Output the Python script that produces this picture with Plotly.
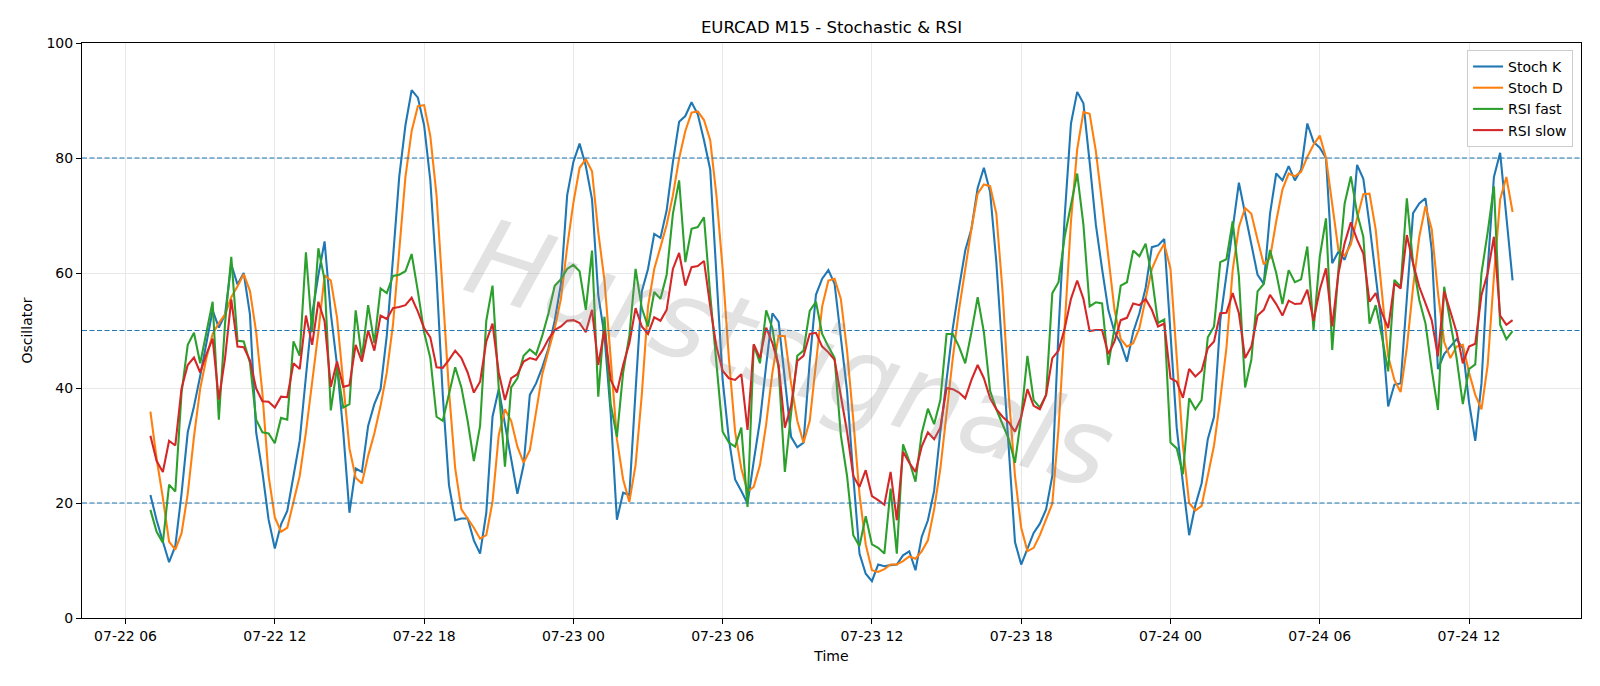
import pandas as pd
import plotly.graph_objects as go

START = "2025-07-22 07:00"
FREQ = "15min"

stoch_k = [
    21.4, 17.0, 13.3, 9.7, 12.5, 21.6, 32.3, 36.8, 42.1, 47.5,
    53.5, 50.5, 52.8, 61.5, 58.0, 60.0, 52.8, 32.3, 25.4, 17.1,
    12.1, 16.3, 18.6, 24.7, 30.8, 42.0, 52.8, 59.6, 65.5, 53.0,
    44.0, 32.4, 18.3, 26.0, 25.4, 33.4, 37.2, 39.8, 49.1, 62.6,
    76.7, 85.7, 91.8, 90.5, 85.7, 76.1, 59.4, 38.8, 23.1, 17.0,
    17.3, 17.3, 13.5, 11.2, 18.3, 35.0, 39.8, 33.7, 27.9, 21.6,
    26.6, 38.8, 40.8, 43.6, 46.9, 51.7, 58.1, 73.5, 79.3, 82.5,
    78.6, 72.8, 56.2, 49.1, 35.6, 17.1, 21.8, 21.4, 39.5, 56.8,
    60.7, 66.8, 66.1, 70.9, 79.3, 86.3, 87.3, 89.7, 87.6, 83.1,
    78.0, 59.4, 41.4, 31.1, 24.1, 22.1, 19.9, 27.3, 34.3, 44.0,
    53.0, 51.5, 41.4, 31.5, 29.7, 30.5, 44.6, 56.2, 59.0, 60.5,
    58.1, 49.1, 39.5, 24.7, 11.2, 7.7, 6.4, 9.3, 9.0, 9.2,
    9.3, 10.9, 11.6, 8.3, 14.1, 17.0, 22.1, 32.4, 41.4, 50.4,
    57.4, 63.9, 67.7, 74.8, 78.3, 74.1, 61.9, 45.9, 28.6, 13.2,
    9.3, 12.2, 14.8, 16.4, 18.9, 24.7, 50.0, 70.0, 86.0, 91.5,
    89.5, 79.3, 68.4, 60.7, 53.6, 49.7, 47.8, 44.6, 49.7, 53.0,
    57.4, 64.5, 64.8, 65.9, 49.1, 33.1, 23.4, 14.4, 19.6, 23.4,
    31.1, 35.0, 51.7, 59.4, 68.0, 75.7, 70.3, 65.2, 59.7, 58.1,
    70.3, 77.3, 76.1, 78.6, 76.1, 78.0, 86.0, 82.8, 81.8, 80.0,
    61.7, 63.7, 62.3, 65.7, 78.8, 76.4, 68.4, 59.4, 50.4, 36.8,
    40.6, 40.8, 56.5, 70.4, 72.1, 73.0, 64.0, 43.3, 45.9, 47.2,
    48.5, 46.9, 37.5, 30.8, 40.8, 60.7, 76.7, 80.9, 70.3, 58.7,
]

stoch_d = [
    35.9, 27.7, 20.9, 13.3, 11.9, 14.7, 21.6, 31.5, 39.9, 45.2,
    49.4, 51.3, 52.8, 55.8, 57.7, 59.8, 56.9, 49.7, 39.1, 24.7,
    17.5, 15.0, 15.7, 20.1, 24.7, 32.3, 40.6, 49.7, 59.6, 58.7,
    52.3, 41.4, 29.5, 24.4, 23.4, 28.2, 32.1, 36.9, 42.7, 51.0,
    64.5, 76.7, 84.7, 89.0, 89.2, 83.8, 73.5, 55.5, 39.5, 26.0,
    18.9, 17.3, 15.7, 13.8, 14.4, 20.2, 31.8, 36.3, 34.3, 29.8,
    27.0, 29.2, 35.6, 42.4, 46.5, 50.4, 55.5, 64.5, 72.2, 78.3,
    79.8, 77.7, 67.1, 58.7, 45.2, 31.1, 24.1, 20.2, 26.6, 38.8,
    54.2, 60.7, 64.5, 68.4, 73.5, 79.9, 84.7, 87.9, 88.1, 86.6,
    83.1, 73.5, 60.7, 45.2, 32.4, 26.0, 22.0, 22.8, 26.6, 33.7,
    42.7, 49.1, 49.0, 40.8, 34.3, 30.5, 34.3, 44.0, 54.2, 58.7,
    59.0, 55.5, 46.5, 34.5, 21.5, 12.8, 8.3, 8.0, 8.5, 9.3,
    9.3, 9.9, 10.7, 10.3, 11.6, 13.5, 18.9, 26.0, 35.6, 45.2,
    53.6, 60.7, 67.7, 73.8, 75.4, 75.1, 70.3, 56.8, 38.8, 24.7,
    15.7, 11.6, 12.2, 14.4, 17.0, 19.9, 33.0, 50.0, 69.0, 81.5,
    88.0, 87.7, 81.2, 72.2, 62.6, 53.6, 48.5, 47.2, 47.8, 50.4,
    55.5, 60.7, 63.2, 65.1, 60.7, 45.0, 30.0, 20.0, 18.7, 19.5,
    24.5, 30.0, 38.0, 47.0, 60.5, 68.0, 71.3, 70.3, 65.8, 61.5,
    62.6, 69.0, 74.5, 77.3, 76.8, 77.6, 80.2, 82.3, 83.9, 80.0,
    72.0, 64.0, 63.0, 65.0, 69.5, 73.7, 73.8, 67.5, 56.5, 45.5,
    41.4, 39.3, 47.0, 57.5, 66.3, 71.6, 67.6, 56.6, 48.0, 45.2,
    47.2, 47.5, 42.7, 38.8, 36.3, 44.0, 59.4, 72.8, 76.7, 70.6,
]

rsi_fast = [
    18.8, 15.0, 13.1, 23.2, 22.0, 39.1, 47.5, 49.6, 44.3, 49.7,
    55.0, 34.5, 51.3, 62.8, 48.2, 48.1, 44.4, 34.5, 32.3, 32.1,
    30.4, 34.8, 34.5, 48.1, 45.6, 63.6, 49.7, 64.3, 58.8, 36.1,
    43.6, 36.6, 37.2, 53.5, 45.2, 54.4, 47.8, 57.3, 56.5, 59.5,
    59.7, 60.3, 63.3, 56.8, 49.7, 45.2, 35.0, 34.3, 39.2, 43.6,
    40.1, 34.3, 27.3, 33.4, 51.7, 57.8, 40.0, 26.3, 40.1, 41.7,
    45.6, 46.7, 45.8, 49.1, 53.0, 57.8, 58.9, 60.7, 61.4, 60.3,
    53.6, 63.9, 38.5, 52.4, 37.2, 31.5, 42.7, 49.1, 60.7, 53.9,
    50.7, 56.7, 55.5, 59.7, 70.3, 76.1, 61.9, 67.7, 68.0, 69.7,
    56.2, 44.6, 32.4, 30.5, 29.8, 33.1, 19.3, 47.5, 44.3, 53.5,
    50.4, 43.3, 25.4, 35.6, 45.6, 46.5, 53.4, 55.0, 49.4, 47.2,
    45.2, 31.8, 24.7, 14.4, 12.5, 17.7, 12.8, 12.2, 11.2, 22.5,
    11.2, 30.2, 27.3, 23.7, 32.1, 36.4, 33.7, 37.9, 49.4, 49.4,
    47.2, 44.3, 49.7, 55.8, 49.7, 39.5, 36.3, 33.7, 31.1, 27.0,
    35.0, 45.6, 37.9, 36.6, 38.8, 56.5, 58.4, 66.4, 71.9, 77.3,
    68.4, 54.2, 54.9, 54.7, 44.0, 50.4, 57.8, 58.4, 63.9, 62.9,
    65.1, 59.4, 51.3, 51.9, 30.5, 29.5, 25.0, 38.2, 36.3, 37.9,
    48.8, 50.7, 61.9, 62.4, 69.0, 59.4, 40.1, 44.9, 56.8, 58.1,
    64.0, 60.0, 54.6, 60.5, 58.4, 58.9, 64.6, 50.1, 62.8, 69.5,
    46.6, 60.5, 72.1, 76.8, 70.4, 66.3, 51.2, 54.4, 48.9, 42.9,
    58.8, 57.6, 73.0, 61.7, 55.3, 51.2, 43.2, 36.2, 57.6, 51.7,
    45.2, 37.2, 43.3, 44.1, 60.0, 67.1, 75.1, 51.0, 48.5, 49.9,
]

rsi_slow = [
    31.7, 27.3, 25.4, 30.8, 30.0, 39.9, 44.0, 45.3, 42.7, 45.9,
    48.6, 38.0, 45.2, 55.4, 47.2, 47.1, 44.8, 39.9, 37.7, 37.6,
    36.6, 38.5, 38.4, 44.3, 43.3, 52.6, 47.5, 55.0, 51.6, 40.2,
    44.6, 40.2, 40.5, 47.5, 44.6, 50.0, 46.5, 52.6, 52.0, 53.9,
    54.1, 54.4, 55.7, 53.3, 50.4, 48.8, 43.6, 43.5, 44.9, 46.5,
    45.2, 42.7, 39.2, 41.1, 48.1, 51.2, 42.7, 37.9, 41.7, 42.4,
    44.6, 45.2, 44.9, 46.5, 48.5, 50.1, 50.7, 51.7, 51.8, 51.3,
    49.7, 53.6, 44.0, 50.1, 41.4, 39.2, 44.0, 47.8, 53.9, 50.7,
    49.4, 52.3, 51.7, 53.6, 60.7, 63.5, 57.8, 61.0, 61.2, 62.1,
    54.2, 47.2, 43.0, 41.7, 41.4, 42.4, 32.7, 47.6, 45.2, 50.5,
    47.8, 44.0, 33.1, 36.9, 44.7, 45.6, 49.4, 49.6, 47.2, 46.2,
    44.9, 38.8, 32.4, 24.7, 22.8, 25.7, 21.2, 20.5, 19.7, 25.4,
    17.0, 28.9, 27.0, 25.4, 29.8, 32.3, 31.1, 33.1, 40.0, 39.8,
    39.2, 38.2, 41.4, 44.0, 41.7, 38.2, 36.3, 35.0, 34.0, 32.4,
    35.0, 39.8, 36.9, 36.3, 38.8, 45.2, 46.5, 50.4, 55.5, 58.7,
    55.5, 49.9, 50.1, 50.1, 45.9, 48.1, 51.8, 52.2, 54.7, 54.4,
    55.5, 53.6, 50.7, 51.2, 41.7, 41.1, 38.3, 43.3, 42.0, 43.0,
    46.9, 48.1, 53.0, 53.1, 56.5, 53.0, 45.2, 47.2, 52.6, 53.6,
    56.2, 54.6, 52.6, 55.2, 54.6, 54.7, 57.1, 51.7, 57.1, 60.8,
    50.7, 59.9, 65.2, 68.8, 65.8, 63.4, 55.0, 56.5, 53.0, 50.4,
    58.2, 57.3, 66.6, 61.7, 57.6, 54.7, 51.8, 45.5, 56.8, 53.3,
    49.7, 44.3, 47.2, 47.7, 56.2, 60.0, 66.3, 52.6, 51.0, 51.8,
]

assert len(stoch_k) == len(stoch_d) == len(rsi_fast) == len(rsi_slow) == 220, (
    len(stoch_k), len(stoch_d), len(rsi_fast), len(rsi_slow))

levels = [20, 50, 80]
series_names = ["Stoch K", "Stoch D", "RSI fast", "RSI slow"]
series_colors = ["#1f77b4", "#ff7f0e", "#2ca02c", "#d62728"]

times = pd.date_range(start=START, periods=len(stoch_k), freq=FREQ)
x_range = ["2025-07-22 04:15", "2025-07-24 16:30"]

FONT = "DejaVu Sans"
fig = go.Figure()
for name, vals, col in zip(series_names, [stoch_k, stoch_d, rsi_fast, rsi_slow], series_colors):
    fig.add_trace(go.Scatter(x=times, y=vals, mode="lines", name=name,
                             line=dict(color=col, width=2.08)))

for lv in levels:
    fig.add_shape(type="line", xref="paper", x0=0, x1=1, yref="y", y0=lv, y1=lv,
                  line=dict(color="#1f77b4", width=1.2, dash="5px,2.5px"), layer="above")

fig.add_annotation(text="Hurstsignals", xref="paper", yref="paper", x=0.472, y=0.46,
                   showarrow=False, textangle=17.5,
                   font=dict(family=FONT, size=108, weight=300,
                             color="rgba(140,140,140,0.25)", style="italic"))

fig.update_layout(
    width=1600, height=686,
    margin=dict(l=82, r=19, t=43, b=68),
    paper_bgcolor="white", plot_bgcolor="white",
    font=dict(family=FONT, size=14, color="black"),
    title=dict(text="EURCAD M15 - Stochastic & RSI", x=0.5, xref="paper", xanchor="center",
               y=1 - 27 / 686, yref="container", yanchor="middle",
               font=dict(family=FONT, size=16.5, color="black")),
    showlegend=True,
    legend=dict(x=0.9947, y=0.988, xanchor="right", yanchor="top",
                bgcolor="rgba(255,255,255,0.8)", bordercolor="#cccccc", borderwidth=1,
                font=dict(family=FONT, size=14, color="black"),
                itemwidth=30, tracegroupgap=0),
    xaxis=dict(type="date", range=x_range, tickformat="%m-%d %H",
               tick0="2025-07-22 00:00", dtick=6 * 3600 * 1000,
               ticks="outside", ticklen=5, tickwidth=1.1, tickcolor="black",
               showline=True, linecolor="black", linewidth=1.1, mirror=True,
               showgrid=True, gridcolor="#e8e8e8", gridwidth=1.1, zeroline=False,
               tickfont=dict(family=FONT, size=14, color="black"),
               title=dict(text="Time", standoff=8, font=dict(family=FONT, size=14))),
    yaxis=dict(range=[0, 100], dtick=20, tick0=0,
               ticks="outside", ticklen=5, tickwidth=1.1, tickcolor="black",
               showline=True, linecolor="black", linewidth=1.1, mirror=True,
               showgrid=True, gridcolor="#e8e8e8", gridwidth=1.1, zeroline=False,
               tickfont=dict(family=FONT, size=14, color="black"),
               title=dict(text="Oscillator", standoff=10, font=dict(family=FONT, size=14))),
)

fig.write_html("out.html")
